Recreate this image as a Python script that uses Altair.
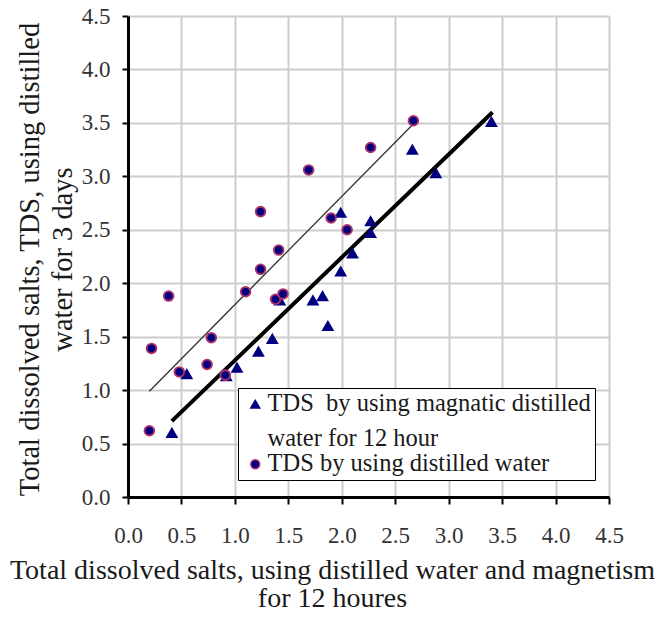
import altair as alt
import pandas as pd

# ---- data ----
tri_x = [0.41, 0.55, 0.92, 1.02, 1.22, 1.35, 1.42, 1.73, 1.82, 1.87, 1.99, 1.99, 2.10, 2.27, 2.27, 2.66, 2.88, 3.40]
tri_y = [0.60, 1.15, 1.13, 1.21, 1.36, 1.48, 1.84, 1.84, 1.88, 1.60, 2.11, 2.66, 2.28, 2.58, 2.47, 3.25, 3.03, 3.51]

circ_x = [0.20, 0.22, 0.38, 0.48, 0.74, 0.78, 0.91, 1.10, 1.24, 1.24, 1.38, 1.41, 1.45, 1.69, 1.90, 2.05, 2.27, 2.67]
circ_y = [0.62, 1.39, 1.88, 1.17, 1.24, 1.49, 1.14, 1.92, 2.13, 2.67, 1.85, 2.31, 1.90, 3.06, 2.61, 2.50, 3.27, 3.52]

fit_tri_x = [0.41, 3.41]
fit_tri_y = [0.71, 3.60]
fit_circ_x = [0.20, 2.66]
fit_circ_y = [0.99, 3.48]

tick_vals = [0.0, 0.5, 1.0, 1.5, 2.0, 2.5, 3.0, 3.5, 4.0, 4.5]

S_TRI = "TDS  by using magnatic distilled water for 12 hour"
S_CIRC = "TDS by using distilled water"
TRI_LINES = ["TDS\u00a0 by using magnatic distilled", "water for 12 hour"]

x_title = ["Total dissolved salts, using distilled water and magnetism", "for 12 houres"]
y_title = ["Total dissolved salts, TDS, using distilled", "water for 3 days"]

pts = pd.DataFrame({
    "x": tri_x + circ_x,
    "y": tri_y + circ_y,
    "series": [S_TRI] * len(tri_x) + [S_CIRC] * len(circ_x),
})
fit_tri = pd.DataFrame({"x": fit_tri_x, "y": fit_tri_y})
fit_circ = pd.DataFrame({"x": fit_circ_x, "y": fit_circ_y})

FONT = "Liberation Serif"

xscale = alt.Scale(domain=[0, 4.5], nice=False, zero=False)
yscale = alt.Scale(domain=[0, 4.5], nice=False, zero=False)

x_axis = alt.Axis(
    values=tick_vals, format=".1f", title=x_title,
    titleFont=FONT, titleFontSize=28, titleFontWeight="normal", titleColor="#1a1a1a",
    titleLineHeight=28, titleX=204, titleY=81, titleAlign="center",
    titleBaseline="alphabetic", titleAnchor="start", titleLimit=900,
    labelFont=FONT, labelFontSize=23, labelColor="#333333", labelPadding=20,
    labelFlush=False, labelOverlap=False,
    tickSize=7, tickWidth=2, tickColor="black",
    domainColor="black", domainWidth=3,
    grid=True, gridColor="#cccccc", gridWidth=2,
)
y_axis = alt.Axis(
    values=tick_vals, format=".1f", title=y_title,
    titleFont=FONT, titleFontSize=28.5, titleFontWeight="normal", titleColor="#1a1a1a",
    titleLineHeight=33, titleX=-90, titleY=243, titleAngle=-90, titleAlign="center",
    titleBaseline="alphabetic", titleAnchor="start", titleLimit=900,
    labelFont=FONT, labelFontSize=23, labelColor="#333333", labelPadding=12,
    labelFlush=False, labelOverlap=False,
    tickSize=6, tickWidth=2, tickColor="black",
    domainColor="black", domainWidth=3,
    grid=True, gridColor="#cccccc", gridWidth=2,
)

X = alt.X("x:Q", scale=xscale, axis=x_axis)
Y = alt.Y("y:Q", scale=yscale, axis=y_axis)

legend = alt.Legend(
    title=None, orient="none", legendX=110, legendY=372,
    fillColor="white", strokeColor="black", padding=4,
    labelFont=FONT, labelFontSize=24.5, labelColor="#1a1a1a", labelLimit=600,
    labelOffset=0, symbolOffset=1, symbolSize=80,
    labelExpr="indexof(datum.label, 'magnatic') >= 0 ? ['" + TRI_LINES[0] + "', '" + TRI_LINES[1] + "'] : datum.label",
    rowPadding=0,
)

dom = [S_TRI, S_CIRC]
points = alt.Chart(pts).mark_point(filled=True, strokeWidth=1.8, opacity=1).encode(
    x=X, y=Y,
    color=alt.Color("series:N", scale=alt.Scale(domain=dom, range=["#000080", "#000080"]), legend=legend),
    shape=alt.Shape("series:N", scale=alt.Scale(domain=dom, range=["triangle-up", "circle"]), legend=legend),
    stroke=alt.Stroke("series:N", scale=alt.Scale(domain=dom, range=["#000080", "#b0306a"]), legend=legend),
    size=alt.value(95),
)

line_tri = alt.Chart(fit_tri).mark_line(color="black", strokeWidth=4).encode(x=X, y=Y)
line_circ = alt.Chart(fit_circ).mark_line(color="#333333", strokeWidth=1.3).encode(x=X, y=Y)

chart = alt.layer(line_circ, line_tri, points).properties(
    width=481, height=481,
    autosize=alt.AutoSizeParams(type="none"),
    padding={"left": 128, "top": 16, "right": 54, "bottom": 120},
    background="white",
).configure_view(
    stroke="#8c8c8c", strokeWidth=2
).configure_axis(
    labelFont=FONT, titleFont=FONT
).configure_legend(
    labelFont=FONT
).configure(
    style={"guide-label": {"lineHeight": 35, "font": FONT}}
)

chart.save("out.html", embed_options={"renderer": "svg", "actions": False})
